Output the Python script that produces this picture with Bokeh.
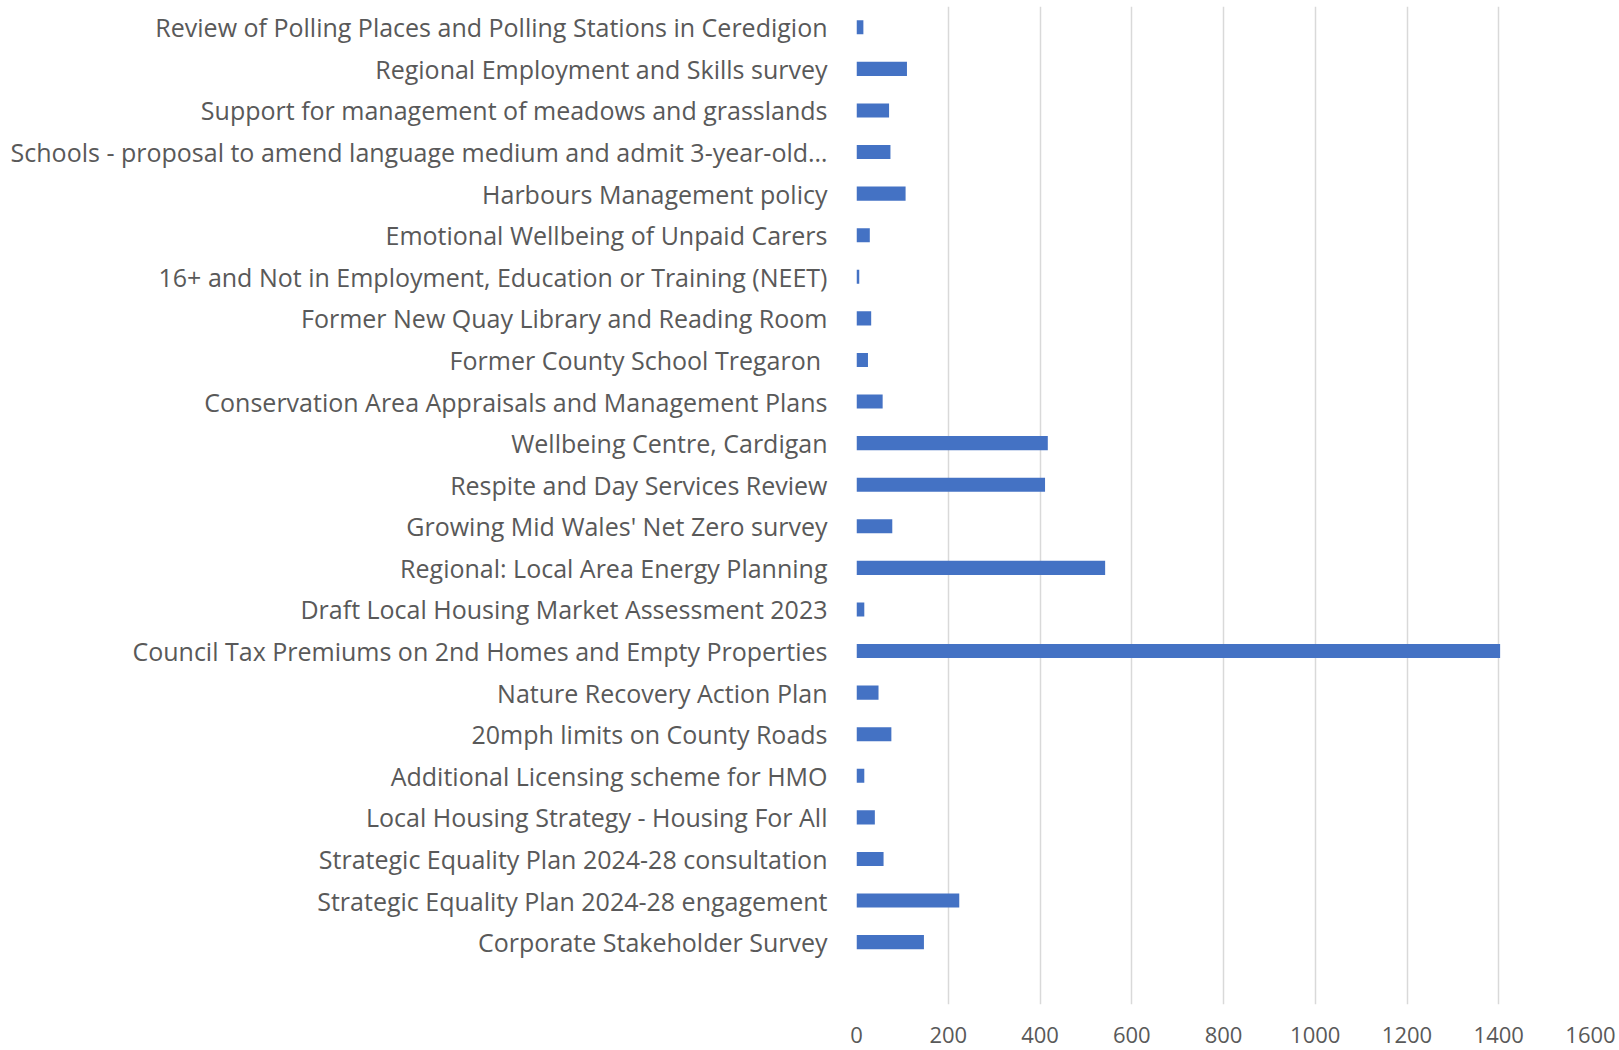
from bokeh.plotting import figure
from bokeh.models import FactorRange, FixedTicker, ColumnDataSource
from bokeh.embed import file_html
from bokeh.resources import INLINE

categories = [
    "Review of Polling Places and Polling Stations in Ceredigion",
    "Regional Employment and Skills survey",
    "Support for management of meadows and grasslands",
    "Schools - proposal to amend language medium and admit 3-year-old\u2026",
    "Harbours Management policy",
    "Emotional Wellbeing of Unpaid Carers",
    "16+ and Not in Employment, Education or Training (NEET)",
    "Former New Quay Library and Reading Room",
    "Former County School Tregaron ",
    "Conservation Area Appraisals and Management Plans",
    "Wellbeing Centre, Cardigan",
    "Respite and Day Services Review",
    "Growing Mid Wales' Net Zero survey",
    "Regional: Local Area Energy Planning",
    "Draft Local Housing Market Assessment 2023",
    "Council Tax Premiums on 2nd Homes and Empty Properties",
    "Nature Recovery Action Plan",
    "20mph limits on County Roads",
    "Additional Licensing scheme for HMO",
    "Local Housing Strategy - Housing For All",
    "Strategic Equality Plan 2024-28 consultation",
    "Strategic Equality Plan 2024-28 engagement",
    "Corporate Stakeholder Survey",
]
responses = [15, 110, 71, 74, 107, 29, 6, 32, 25, 57, 417, 411, 78, 542, 17,
             1403, 48, 76, 17, 40, 59, 224, 147]
x_ticks = [0, 200, 400, 600, 800, 1000, 1200, 1400, 1600]

FONT = "Open Sans"
TEXT = "#595959"
GRID = "#d9d9d9"

source = ColumnDataSource(data=dict(cat=categories, val=responses))

# blank slot at the bottom, as in the original chart
factors = [" "] + list(reversed(categories))

p = figure(
    width=1619, height=1050,
    y_range=FactorRange(factors=factors, range_padding=0),
    x_range=(0, 1600),
    output_backend="svg", toolbar_location=None,
    min_border_left=856, min_border_right=29, min_border_top=6, min_border_bottom=46,
)

p.hbar(y="cat", right="val", left=0, height=0.34, source=source,
       fill_color="#4472C4", line_color=None)

p.outline_line_color = None
p.background_fill_color = "white"
p.border_fill_color = "white"

p.ygrid.grid_line_color = None
p.xgrid.grid_line_color = GRID
p.xgrid.grid_line_width = 1.5
p.xaxis.ticker = FixedTicker(ticks=x_ticks)

for ax in (p.xaxis[0], p.yaxis[0]):
    ax.axis_line_color = None
    ax.major_tick_line_color = None
    ax.minor_tick_line_color = None
    ax.major_label_text_font = FONT
    ax.major_label_text_color = TEXT

p.yaxis.major_label_text_font_size = "25px"
p.xaxis.major_label_text_font_size = "22px"
p.yaxis.major_label_standoff = 23
p.xaxis.major_label_standoff = 16

open("out.html", "w").write(file_html(p, INLINE))
